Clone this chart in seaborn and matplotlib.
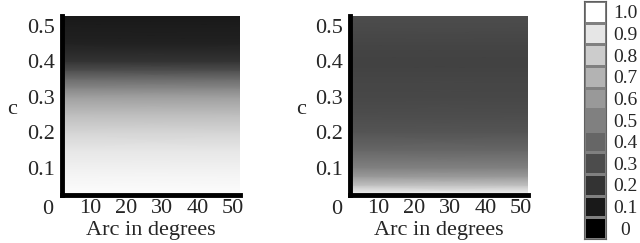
import numpy as np
import matplotlib
matplotlib.use("Agg")
import matplotlib.pyplot as plt
import seaborn as sns

# grey level (0 = black, 1 = white) sampled along c, same for every arc
c_vals = [0.0225, 0.05, 0.075, 0.10, 0.15, 0.20, 0.25, 0.30, 0.325, 0.35, 0.375, 0.40, 0.45, 0.50, 0.527]
left_vals = [0.99, 0.97, 0.96, 0.94, 0.90, 0.83, 0.74, 0.62, 0.52, 0.42, 0.30, 0.20, 0.13, 0.11, 0.10]
right_vals = [0.97, 0.75, 0.60, 0.50, 0.40, 0.33, 0.30, 0.28, 0.275, 0.27, 0.265, 0.26, 0.27, 0.29, 0.30]
arc_vals = [2, 52]

x_ticks = [10, 20, 30, 40, 50]
y_ticks = [0.1, 0.2, 0.3, 0.4, 0.5]
levels = [1.0, 0.9, 0.8, 0.7, 0.6, 0.5, 0.4, 0.3, 0.2, 0.1, 0.0]
level_labels = ["1.0", "0.9", "0.8", "0.7", "0.6", "0.5", "0.4", "0.3", "0.2", "0.1", "0"]

sns.set_style("white")
plt.rcParams['font.family'] = ['Liberation Serif', 'DejaVu Serif']

fig = plt.figure(figsize=(6.4, 2.43), dpi=100)
FS = 16

def panel(rect, vals, c_x):
    ax = fig.add_axes(rect)
    Z = np.tile(np.array(vals)[:, None], (1, len(arc_vals)))
    ax.pcolormesh(arc_vals, c_vals, Z, shading='gouraud', cmap='gray', vmin=0, vmax=1)
    ax.set_xlim(2, 52)
    ax.set_ylim(0.0225, 0.527)
    ax.set_xticks(x_ticks)
    ax.set_yticks(y_ticks)
    ax.set_xticklabels([str(t) for t in x_ticks], fontsize=FS)
    ax.set_yticklabels([f"{t:.1f}" for t in y_ticks], fontsize=FS)
    ax.tick_params(axis='y', length=0, pad=5)
    ax.tick_params(axis='x', length=0, pad=3)
    for s in ['top', 'right']:
        ax.spines[s].set_visible(False)
    for s in ['left', 'bottom']:
        ax.spines[s].set_linewidth(3.5)
        ax.spines[s].set_color('black')
    ax.set_xlabel("Arc in degrees", fontsize=FS, labelpad=2)
    fig.text(c_x / 640, 1 - 110 / 243, "c", fontsize=FS, ha='center', va='center')
    fig.text((c_x + 36) / 640, 1 - 209 / 243, "0", fontsize=FS, ha='center', va='center')
    return ax

panel([62 / 640, 1 - 195 / 243, 178 / 640, 179 / 243], left_vals, 12)
panel([350 / 640, 1 - 195 / 243, 178 / 640, 179 / 243], right_vals, 301)

# discrete grey scale key
cax = fig.add_axes([584 / 640, 1 - 239 / 243, 22 / 640, 238 / 243])
sns.heatmap(np.array(levels)[:, None], ax=cax, cmap='gray', vmin=0, vmax=1,
            cbar=False, linewidths=0.8, linecolor='#808080',
            xticklabels=False, yticklabels=level_labels)
cax.yaxis.tick_right()
cax.tick_params(length=0, pad=14)
for lab in cax.get_yticklabels():
    lab.set_rotation(0)
    lab.set_ha('center')
    lab.set_fontsize(14)
for s in cax.spines.values():
    s.set_visible(True)
    s.set_color('#606060')
    s.set_linewidth(0.8)

fig.savefig("out.png", dpi=100)
